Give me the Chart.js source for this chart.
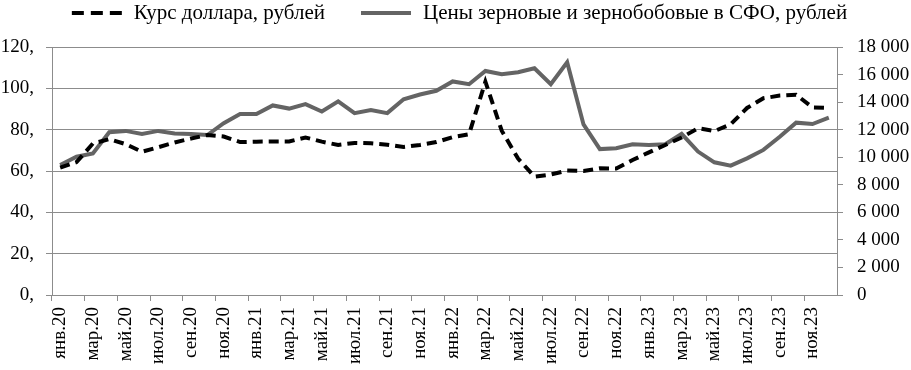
<!DOCTYPE html>
<html lang="ru">
<head>
  <meta charset="UTF-8" />
  <title>Курс доллара и цены на зерно в СФО</title>
  <script src="https://cdn.jsdelivr.net/npm/chart.js@4"></script>
  <style>
    body {
      margin: 0;
      background: #ffffff;
    }
    canvas {
      display: block;
    }
  </style>
</head>
<body>
  <canvas id="chart" width="911" height="370"></canvas>

  <script>
    const months = [
      'янв.20', 'фев.20', 'мар.20', 'апр.20', 'май.20', 'июн.20', 'июл.20', 'авг.20', 'сен.20', 'окт.20', 'ноя.20', 'дек.20',
      'янв.21', 'фев.21', 'мар.21', 'апр.21', 'май.21', 'июн.21', 'июл.21', 'авг.21', 'сен.21', 'окт.21', 'ноя.21', 'дек.21',
      'янв.22', 'фев.22', 'мар.22', 'апр.22', 'май.22', 'июн.22', 'июл.22', 'авг.22', 'сен.22', 'окт.22', 'ноя.22', 'дек.22',
      'янв.23', 'фев.23', 'мар.23', 'апр.23', 'май.23', 'июн.23', 'июл.23', 'авг.23', 'сен.23', 'окт.23', 'ноя.23', 'дек.23'
    ];

    // курс доллара, руб. (левая ось)
    const usdRub = [
      61.6, 64.3, 73.3, 75.4, 73.0, 69.3, 71.5, 73.8, 75.7, 77.4, 76.7, 74.0,
      74.2, 74.3, 74.3, 76.2, 74.2, 72.6, 73.6, 73.4, 72.7, 71.6, 72.6, 74.0,
      76.4, 77.8, 103.2, 79.5, 66.0, 57.3, 58.3, 60.2, 60.0, 61.3, 61.2, 65.3,
      69.0, 72.6, 76.2, 80.7, 79.3, 82.6, 90.5, 95.2, 96.5, 96.9, 90.8, 90.6
    ];

    // цены на зерновые и зернобобовые в СФО, руб. (правая ось)
    const grainPrice = [
      9440, 10040, 10280, 11810, 11910, 11690, 11910, 11730, 11690, 11610, 12470, 13130,
      13130, 13760, 13530, 13850, 13320, 14060, 13200, 13430, 13200, 14210, 14550, 14820,
      15500, 15300, 16260, 16020, 16170, 16460, 15300, 16890, 12380, 10590, 10650, 10940,
      10890, 10940, 11690, 10410, 9630, 9390, 9920, 10530, 11490, 12510, 12410, 12870
    ];

    const seriesNames = ['Курс доллара, рублей', 'Цены зерновые и зернобобовые в СФО, рублей'];

    const font = { family: '"Liberation Serif", "Times New Roman", serif', size: 19 };
    const legendFontSize = 21;
    const gridColor = '#8c8c8c';

    function groupThousands(v) {
      return String(v).replace(/\B(?=(\d{3})+(?!\d))/g, ' ');
    }

    // легенда сверху: образец линии + подпись
    const topLegend = {
      id: 'topLegend',
      afterDraw(chart) {
        const ctx = chart.ctx;
        const sample = 50, textGap = 12, itemGap = 36, y = 13;
        ctx.save();
        ctx.font = `${legendFontSize}px ${font.family}`;
        ctx.textBaseline = 'middle';
        const items = chart.data.datasets.map(ds => ({ ds, w: ctx.measureText(ds.label).width }));
        const total = items.reduce((s, it) => s + sample + textGap + it.w, 0) + itemGap * (items.length - 1);
        let x = (chart.width - total) / 2 + 4;
        items.forEach(it => {
          ctx.strokeStyle = it.ds.borderColor;
          ctx.lineWidth = it.ds.borderWidth;
          ctx.setLineDash(it.ds.legendDash || []);
          ctx.beginPath();
          ctx.moveTo(x, y);
          ctx.lineTo(x + sample, y);
          ctx.stroke();
          ctx.setLineDash([]);
          ctx.fillStyle = '#000';
          ctx.fillText(it.ds.label, x + sample + textGap, y);
          x += sample + textGap + it.w + itemGap;
        });
        ctx.restore();
      }
    };

    const ctx = document.getElementById('chart').getContext('2d');
    const chart = new Chart(ctx, {
      type: 'line',
      data: {
        labels: months,
        datasets: [
          {
            label: seriesNames[0],
            data: usdRub,
            yAxisID: 'y',
            borderColor: '#000000',
            borderWidth: 4,
            borderDash: [10, 6],
            legendDash: [12, 7],
            pointRadius: 0,
            tension: 0,
            fill: false
          },
          {
            label: seriesNames[1],
            data: grainPrice,
            yAxisID: 'y1',
            borderColor: '#646464',
            borderWidth: 4,
            pointRadius: 0,
            tension: 0,
            fill: false
          }
        ]
      },
      options: {
        responsive: false,
        animation: false,
        layout: { padding: { top: 47, left: 0, right: 0, bottom: 0 } },
        plugins: {
          legend: { display: false },
          tooltip: { enabled: false }
        },
        scales: {
          x: {
            offset: true,
            grid: {
              offset: true,
              drawOnChartArea: false,
              tickLength: 6,
              color: c => (c.index % 2 === 0 ? gridColor : 'rgba(0,0,0,0)')
            },
            border: { color: gridColor, width: 1 },
            ticks: {
              autoSkip: false,
              maxRotation: 90,
              minRotation: 90,
              padding: 6,
              color: '#000',
              font: font,
              callback: function (v, i) { return i % 2 === 0 ? months[i] : ''; }
            },
            afterFit: s => { s.height = 75; }
          },
          y: {
            position: 'left',
            min: 0,
            max: 120,
            grid: { color: gridColor, tickLength: 6 },
            border: { color: gridColor, width: 1 },
            ticks: {
              stepSize: 20,
              padding: 12,
              color: '#000',
              font: font,
              callback: v => v + ','
            },
            afterFit: s => { s.width = 52; }
          },
          y1: {
            position: 'right',
            min: 0,
            max: 18000,
            grid: { drawOnChartArea: false, color: gridColor, tickLength: 6 },
            border: { color: gridColor, width: 1 },
            ticks: {
              stepSize: 2000,
              padding: 14,
              color: '#000',
              font: font,
              callback: v => groupThousands(v)
            },
            afterFit: s => { s.width = 74; }
          }
        }
      },
      plugins: [topLegend]
    });
  </script>
</body>
</html>
